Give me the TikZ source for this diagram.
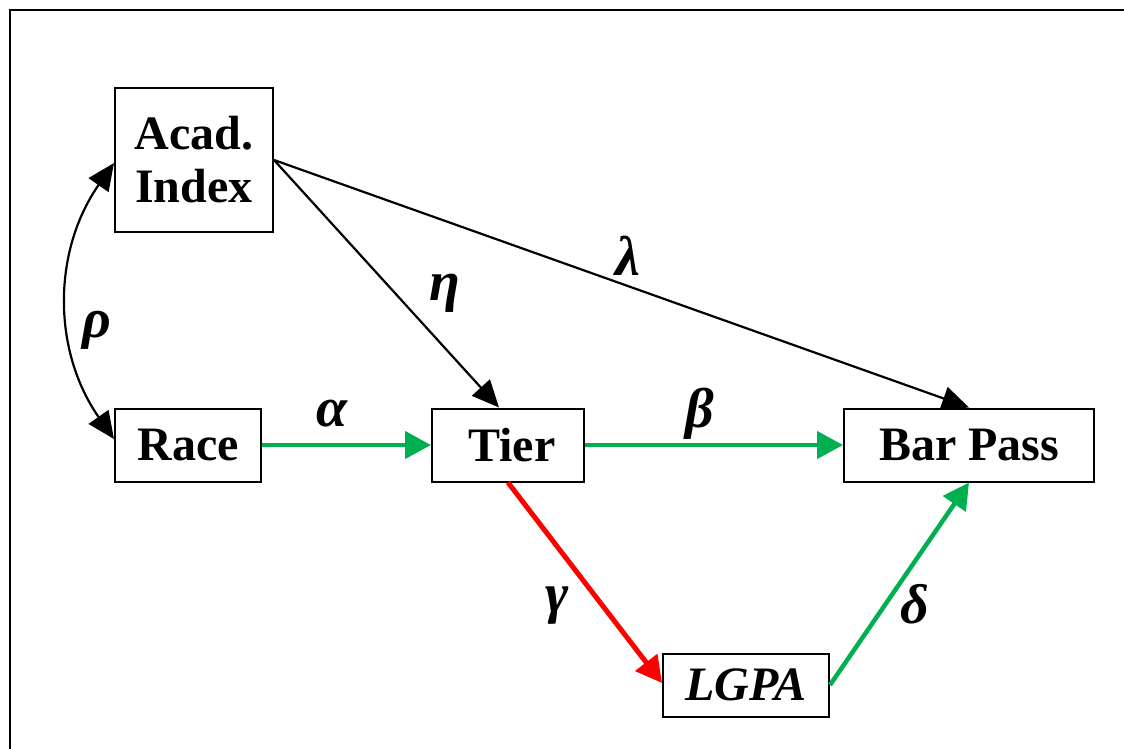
\documentclass[tikz,border=0pt]{standalone}
\usepackage{fontspec}
\setmainfont{Liberation Serif}
\usetikzlibrary{arrows.meta,calc}
\definecolor{pgreen}{RGB}{0,176,80}
\definecolor{pred}{RGB}{255,0,0}
\tikzset{
  box/.style={draw=black, line width=2pt, inner sep=0pt, font=\fontsize{48}{53}\selectfont\bfseries, align=center},
  blk/.style={draw=black, line width=2.2pt, -{Triangle[length=27pt,width=24pt]}},
  grn/.style={draw=pgreen, line width=4.5pt, -{Triangle[length=26pt,width=27pt]}},
  rd/.style={draw=pred, line width=5pt, -{Triangle[length=26pt,width=27pt]}},
  glab/.style={font=\fontsize{56}{56}\selectfont\bfseries\itshape, inner sep=0pt}
}
\begin{document}
\begin{tikzpicture}[x=1pt,y=-1pt]
\useasboundingbox (0,0) rectangle (1124,748);
\clip (0,0) rectangle (1124,748);
\fill[white] (0,0) rectangle (1124,748);
\draw[line width=2.6pt] (10,10) rectangle (1140,770);

\node[box, minimum width=158pt, minimum height=144pt] (acad) at (194,160) {Acad.\\Index};
\node[box, minimum width=146pt, minimum height=73pt] (race) at (188,445) {Race};
\node[box, minimum width=152pt, minimum height=73pt] (tier) at (508,445) {\,Tier};
\node[box, minimum width=250pt, minimum height=73pt] (bar) at (969,445) {Bar Pass};
\node[box, minimum width=166pt, minimum height=63pt, font=\fontsize{48}{53}\selectfont\bfseries\itshape] (lgpa) at (746,685) {LGPA};

\draw[blk, {Triangle[length=27pt,width=24pt]}-{Triangle[length=27pt,width=24pt]}] ($(acad.west)+(0,3)$) to[bend right=35] ($(race.west)+(0,-6)$);
\draw[blk] (acad.east) -- ($(tier.north)+(-9,0)$);
\draw[blk] (acad.east) -- (bar.north);
\draw[grn] (race.east) -- (tier.west);
\draw[grn] (tier.east) -- (bar.west);
\draw[rd] (tier.south) -- ($(lgpa.west)+(0,-2)$);
\draw[grn] (lgpa.east) -- (bar.south);

\node[glab] (rho) at (97,330) {ρ};
\node[glab] (alpha) at (332,414) {α};
\node[glab] (eta) at (445,293) {η};
\node[glab] (lambda) at (628,256) {λ};
\node[glab] (beta) at (700,414) {β};
\node[glab] (gamma) at (557,606) {γ};
\node[glab] (delta) at (915,604) {δ};
\end{tikzpicture}
\end{document}
